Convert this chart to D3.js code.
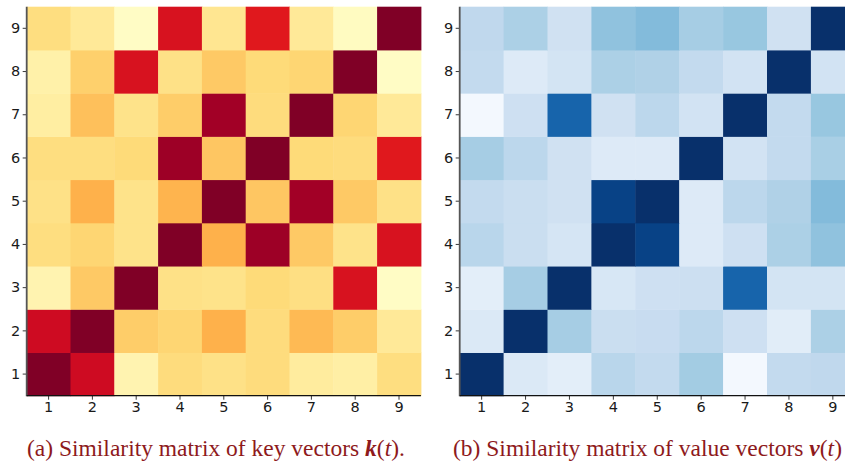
<!DOCTYPE html>
<html><head><meta charset="utf-8">
<script src="https://cdn.jsdelivr.net/npm/d3@7"></script>
<style>
html,body{margin:0;padding:0;background:#fff;overflow:hidden;}
svg{display:block;}
</style></head>
<body>
<svg id="chart" width="845" height="464"></svg>
<script>
// ---- data ----
const ticks = ["1","2","3","4","5","6","7","8","9"];
// rows listed from row "1" (bottom) to row "9" (top); columns 1..9
const keySimilarity = [
  [1.00,0.82,0.08,0.23,0.20,0.23,0.13,0.11,0.22],
  [0.82,1.00,0.29,0.26,0.38,0.23,0.35,0.29,0.15],
  [0.08,0.30,1.00,0.20,0.19,0.24,0.21,0.79,0.02],
  [0.22,0.26,0.19,1.00,0.38,0.94,0.30,0.19,0.79],
  [0.20,0.38,0.19,0.37,1.00,0.31,0.93,0.30,0.20],
  [0.22,0.22,0.24,0.94,0.31,1.00,0.24,0.23,0.76],
  [0.12,0.33,0.19,0.29,0.93,0.23,1.00,0.26,0.15],
  [0.10,0.28,0.79,0.20,0.30,0.24,0.26,1.00,0.02],
  [0.22,0.15,0.02,0.79,0.17,0.76,0.15,0.03,1.00]
];
const valueSimilarity = [
  [1.00,0.14,0.10,0.29,0.26,0.36,0.02,0.26,0.27],
  [0.14,1.00,0.35,0.23,0.24,0.28,0.21,0.11,0.33],
  [0.10,0.35,1.00,0.16,0.21,0.22,0.80,0.18,0.18],
  [0.29,0.23,0.17,1.00,0.93,0.13,0.21,0.33,0.41],
  [0.26,0.23,0.20,0.93,1.00,0.13,0.28,0.32,0.44],
  [0.35,0.28,0.20,0.13,0.13,1.00,0.19,0.26,0.34],
  [0.02,0.21,0.80,0.20,0.28,0.19,1.00,0.26,0.39],
  [0.26,0.13,0.18,0.33,0.32,0.26,0.19,1.00,0.19],
  [0.27,0.33,0.20,0.41,0.44,0.35,0.39,0.20,1.00]
];
const captionA = ["(a) Similarity matrix of key vectors ", "k", "(", "t", ")."];
const captionB = ["(b) Similarity matrix of value vectors ", "v", "(", "t", ")"];

// ---- drawing ----
const svg = d3.select("#chart");
const ylorrd = d3.piecewise(d3.interpolateRgb, d3.schemeYlOrRd[9]);
const blues = d3.piecewise(d3.interpolateRgb, d3.schemeBlues[9]);

function panel(x0, cellW, matrix, interp) {
  const top = 6.7, bottom = 395.7;
  const x = d3.scaleBand().domain(ticks).range([x0, x0 + cellW * 9]);
  const y = d3.scaleBand().domain(ticks.slice().reverse()).range([top, bottom]);
  const color = d3.scaleSequential(interp).domain([0, 1]);
  const g = svg.append("g");
  const cells = [];
  matrix.forEach((row, ri) => row.forEach((v, ci) => cells.push({r: ticks[ri], c: ticks[ci], v})));
  g.selectAll("rect").data(cells).join("rect")
    .attr("x", d => x(d.c)).attr("y", d => y(d.r))
    .attr("width", x.bandwidth() + 0.5).attr("height", y.bandwidth() + 0.5)
    .attr("fill", d => color(d.v));
  const ax = g.append("g").attr("transform", `translate(0,${bottom})`)
    .call(d3.axisBottom(x).tickSize(4).tickPadding(2.5));
  const ay = g.append("g").attr("transform", `translate(${x0},0)`)
    .call(d3.axisLeft(y).tickSize(4).tickPadding(2.5));
  [ax, ay].forEach(a => {
    a.select(".domain").remove();
    a.selectAll(".tick line").attr("stroke", "#222").attr("stroke-width", 0.9);
    a.selectAll("text").attr("font-family", "DejaVu Sans").attr("font-size", 14.5).attr("fill", "#1a1a1a");
  });
  g.append("line").attr("x1", x0).attr("x2", x0).attr("y1", top).attr("y2", bottom + 0.5)
    .attr("stroke", "#555").attr("stroke-width", 1.8);
  g.append("line").attr("x1", x0).attr("x2", x0 + cellW * 9).attr("y1", bottom).attr("y2", bottom)
    .attr("stroke", "#111").attr("stroke-width", 1.2);
}
panel(26.7, 43.8, keySimilarity, ylorrd);
panel(459.7, 43.9, valueSimilarity, blues);

function caption(parts, x0, x1) {
  const t = svg.append("text").attr("x", x0).attr("y", 456)
    .attr("font-family", "Liberation Serif, serif").attr("font-size", 20).attr("fill", "#8e1a1c");
  t.append("tspan").text(parts[0]);
  t.append("tspan").attr("font-weight", "bold").attr("font-style", "italic").text(parts[1]);
  t.append("tspan").text(parts[2]);
  t.append("tspan").attr("font-style", "italic").text(parts[3]);
  t.append("tspan").text(parts[4]);
  const w = t.node().getComputedTextLength();
  t.attr("font-size", 20 * (x1 - x0) / w);
}
caption(captionA, 27, 405);
caption(captionB, 453, 842);
</script>
</body></html>
